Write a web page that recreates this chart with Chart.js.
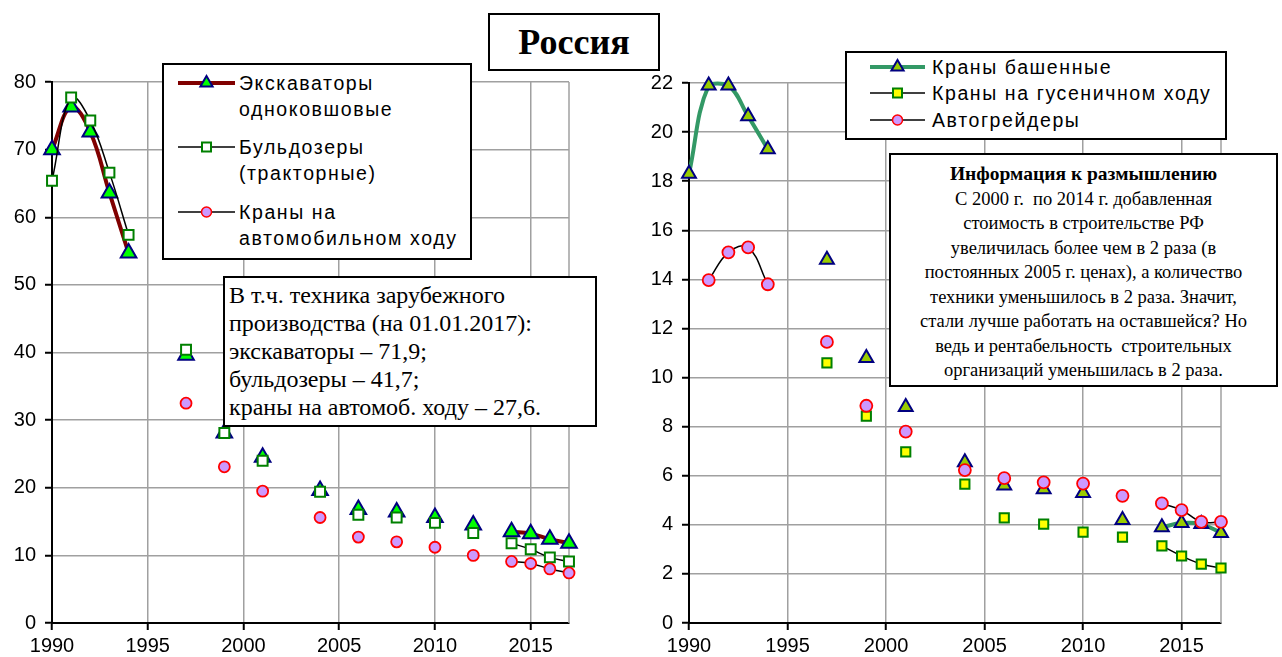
<!DOCTYPE html>
<html lang="ru">
<head>
<meta charset="utf-8">
<title>Россия — парк строительной техники</title>
<script src="https://cdn.jsdelivr.net/npm/chart.js@4.4.1/dist/chart.umd.min.js"></script>
<style>
  body { margin: 0; width: 1282px; height: 657px; position: relative; background: #fff; overflow: hidden;
         font-family: Arial, "Liberation Sans", sans-serif; color: #000; }
  canvas { position: absolute; top: 0; }
  #leftChart { left: 0; }
  #rightChart { left: 640px; }
  .box { position: absolute; background: #fff; border: 2px solid #000; box-sizing: border-box; }
  .leg-mark { position: absolute; }
  .leg-text { position: absolute; font-size: 19.5px; line-height: 26px; letter-spacing: 1.6px; white-space: nowrap; }
  .serif { font-family: "Liberation Serif", "Times New Roman", serif; }
  #title { left: 488px; top: 13px; width: 172px; height: 58px; font-size: 36px; font-weight: bold;
           text-align: center; line-height: 54px; }
  #note { left: 223px; top: 276px; width: 374px; height: 151px; font-size: 24px; line-height: 28px;
          padding: 3px 0 0 4px; white-space: nowrap; }
  #info { left: 889px; top: 153px; width: 389px; height: 234px; font-size: 18.5px; line-height: 24.5px;
          text-align: center; padding-top: 7px; white-space: nowrap; }
  #info b { font-weight: bold; font-size: 19.5px; }
</style>
</head>
<body>
<canvas id="leftChart" width="640" height="657"></canvas>
<canvas id="rightChart" width="642" height="657"></canvas>

<div class="box serif" id="title">Россия</div>

<!-- left legend -->
<div class="box" style="left:162px; top:63px; width:310px; height:197px;"></div>
<svg class="leg-mark" style="left:178px; top:73px;" width="57" height="20">
  <line x1="0" y1="10" x2="57" y2="10" stroke="#800000" stroke-width="4"/>
  <polygon points="28.5,3 34.6,13.5 22.4,13.5" fill="#00ff00" stroke="#000080" stroke-width="2"/>
</svg>
<div class="leg-text" style="left:239px; top:70px;">Экскаваторы<br>одноковшовые</div>
<svg class="leg-mark" style="left:178px; top:137px;" width="57" height="20">
  <line x1="0" y1="10" x2="57" y2="10" stroke="#000" stroke-width="1.5"/>
  <rect x="24" y="5.5" width="9" height="9" fill="#fff" stroke="#008000" stroke-width="2"/>
</svg>
<div class="leg-text" style="left:239px; top:134px;">Бульдозеры<br>(тракторные)</div>
<svg class="leg-mark" style="left:178px; top:202px;" width="57" height="20">
  <line x1="0" y1="10" x2="57" y2="10" stroke="#000" stroke-width="1.5"/>
  <circle cx="28.5" cy="10" r="5" fill="#cc99ff" stroke="#ff0000" stroke-width="1.5"/>
</svg>
<div class="leg-text" style="left:239px; top:199px;">Краны на<br>автомобильном ходу</div>

<div class="box serif" id="note">В т.ч. техника зарубежного<br>производства (на 01.01.2017):<br>экскаваторы – 71,9;<br>бульдозеры – 41,7;<br>краны на автомоб. ходу – 27,6.</div>

<!-- right legend -->
<div class="box" style="left:845px; top:51px; width:382px; height:89px;"></div>
<svg class="leg-mark" style="left:870px; top:57px;" width="55" height="20">
  <line x1="0" y1="10" x2="55" y2="10" stroke="#339966" stroke-width="4"/>
  <polygon points="27.5,3 33.6,13.5 21.4,13.5" fill="#99cc00" stroke="#000080" stroke-width="2"/>
</svg>
<div class="leg-text" style="left:932px; top:54px;">Краны башенные</div>
<svg class="leg-mark" style="left:870px; top:83px;" width="55" height="20">
  <line x1="0" y1="10" x2="55" y2="10" stroke="#000" stroke-width="1.5"/>
  <rect x="23" y="5.5" width="9" height="9" fill="#ffff00" stroke="#008000" stroke-width="2"/>
</svg>
<div class="leg-text" style="left:932px; top:80px;">Краны на гусеничном ходу</div>
<svg class="leg-mark" style="left:870px; top:110px;" width="55" height="20">
  <line x1="0" y1="10" x2="55" y2="10" stroke="#000" stroke-width="1.5"/>
  <circle cx="27.5" cy="10" r="5" fill="#cc99ff" stroke="#ff0000" stroke-width="1.5"/>
</svg>
<div class="leg-text" style="left:932px; top:107px;">Автогрейдеры</div>

<div class="box serif" id="info"><b>Информация к размышлению</b><br>С 2000 г.&nbsp; по 2014 г. добавленная<br>стоимость в строительстве РФ<br>увеличилась более чем в 2 раза (в<br>постоянных 2005 г. ценах), а количество<br>техники уменьшилось в 2 раза. Значит,<br>стали лучше работать на оставшейся? Но<br>ведь и рентабельность&nbsp; строительных<br>организаций уменьшилась в 2 раза.</div>

<script>
// years with observations (missing years break the lines)
const years = [1990, 1991, 1992, 1993, 1994, 1997, 1999, 2001, 2004, 2006, 2008, 2010, 2012, 2014, 2015, 2016, 2017];

// left chart, thousand units
const excavators = [70.0, 76.3, 72.6, 63.6, 54.7, 39.6, 28.1, 24.5, 19.6, 16.8, 16.4, 15.6, 14.5, 13.5, 13.2, 12.4, 11.8];
const bulldozers = [65.4, 77.7, 74.3, 66.6, 57.4, 40.4, 28.1, 24.0, 19.4, 16.0, 15.6, 14.8, 13.3, 11.8, 10.9, 9.7, 9.1];
const truckCranes = [null, null, null, null, null, 32.5, 23.1, 19.5, 15.6, 12.7, 12.0, 11.2, 10.0, 9.1, 8.8, 8.0, 7.4];

// right chart, thousand units
const towerCranes = [18.3, 21.9, 21.9, 20.65, 19.3, 14.8, 10.8, 8.8, 6.55, 5.6, 5.45, 5.3, 4.2, 3.9, 4.07, 4.03, 3.67];
const crawlerCranes = [null, null, null, null, null, 10.6, 8.43, 6.97, 5.66, 4.28, 4.03, 3.7, 3.5, 3.14, 2.73, 2.4, 2.24];
const graders = [null, 13.97, 15.1, 15.3, 13.8, 11.45, 8.85, 7.8, 6.23, 5.9, 5.73, 5.68, 5.18, 4.87, 4.6, 4.12, 4.12];

const xTicks = [1990, 1995, 2000, 2005, 2010, 2015];
const GRID = '#a0a0a0';

// insert a null after a year when the next year is missing, so Chart.js leaves a gap
function toPoints(values) {
    const pts = [];
    years.forEach((yr, i) => {
        pts.push({ x: yr, y: values[i] });
        if (i < years.length - 1 && years[i + 1] - yr > 1) pts.push({ x: yr + 1, y: null });
    });
    return pts;
}

const plotFrame = {
    id: 'plotFrame',
    beforeDatasetsDraw(chart) {
        const { ctx, chartArea: a } = chart;
        ctx.save();
        ctx.strokeStyle = GRID;
        ctx.lineWidth = 1.5;
        ctx.beginPath();
        ctx.moveTo(a.right, a.top);
        ctx.lineTo(a.right, a.bottom);
        ctx.stroke();
        ctx.restore();
    }
};

function series(values, o) {
    return {
        data: toPoints(values),
        borderColor: o.line,
        borderWidth: o.width,
        pointStyle: o.style,
        pointRadius: o.radius,
        pointBackgroundColor: o.fill,
        pointBorderColor: o.edge,
        pointBorderWidth: o.edgeWidth || 2,
        tension: 0.4,
        spanGaps: false,
        clip: false,
        order: o.order
    };
}

function options(yMax, yStep, yWidth, pad) {
    const tickFont = { family: 'Arial, "Liberation Sans", sans-serif', size: 20 };
    return {
        responsive: false,
        animation: false,
        layout: { padding: pad },
        plugins: { legend: { display: false }, tooltip: { enabled: false } },
        scales: {
            x: {
                type: 'linear', min: 1990, max: 2017,
                afterBuildTicks: (s) => { s.ticks = xTicks.map(v => ({ value: v })); },
                afterFit: (s) => { s.height = 34; },
                ticks: { font: tickFont, color: '#000', padding: 4, maxRotation: 0, callback: (v) => String(v) },
                grid: { color: GRID, lineWidth: 1.5, tickColor: '#000', tickWidth: 2, tickLength: 7 },
                border: { color: '#000', width: 2 }
            },
            y: {
                min: 0, max: yMax,
                ticks: { stepSize: yStep, font: tickFont, color: '#000', padding: 9 },
                afterFit: (s) => { s.width = yWidth; },
                grid: { color: GRID, lineWidth: 1.5, tickColor: '#000', tickWidth: 2, tickLength: 7 },
                border: { color: '#000', width: 2 }
            }
        }
    };
}

new Chart(document.getElementById('leftChart'), {
    type: 'line',
    data: {
        datasets: [
            series(truckCranes, { line: '#000', width: 1.5, style: 'circle', radius: 5.5, edgeWidth: 1.8, fill: '#cc99ff', edge: '#ff0000', order: 1 }),
            series(bulldozers, { line: '#000', width: 1.5, style: 'rect', radius: 7, fill: '#ffffff', edge: '#008000', order: 2 }),
            series(excavators, { line: '#800000', width: 4, style: 'triangle', radius: 9, fill: '#00ff00', edge: '#000080', order: 3 })
        ]
    },
    options: options(80, 10, 52, { top: 82, right: 71, left: 0, bottom: 0 }),
    plugins: [plotFrame]
});

new Chart(document.getElementById('rightChart'), {
    type: 'line',
    data: {
        datasets: [
            series(graders, { line: '#000', width: 1.5, style: 'circle', radius: 6, edgeWidth: 1.8, fill: '#cc99ff', edge: '#ff0000', order: 1 }),
            series(crawlerCranes, { line: '#000', width: 1.5, style: 'rect', radius: 6.5, fill: '#ffff00', edge: '#008000', order: 2 }),
            series(towerCranes, { line: '#339966', width: 4, style: 'triangle', radius: 8, fill: '#99cc00', edge: '#000080', order: 3 })
        ]
    },
    options: options(22, 2, 49, { top: 83, right: 61, left: 0, bottom: 0 }),
    plugins: [plotFrame]
});
</script>
</body>
</html>
